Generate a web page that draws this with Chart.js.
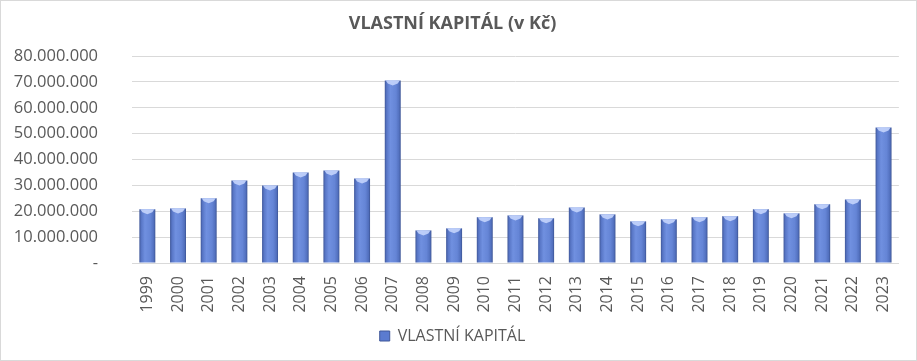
<!DOCTYPE html>
<html>
<head>
<meta charset="utf-8">
<script src="https://cdn.jsdelivr.net/npm/chart.js@4/dist/chart.umd.min.js"></script>
<style>
  html, body { margin: 0; padding: 0; background: #fff; }
  #wrap { width: 917px; height: 361px; box-sizing: border-box; border: 1px solid #d9d9d9; }
</style>
</head>
<body>
<div id="wrap"><canvas id="chart"></canvas></div>
<script>
// Data
const years = ['1999', '2000', '2001', '2002', '2003', '2004', '2005', '2006', '2007', '2008',
  '2009', '2010', '2011', '2012', '2013', '2014', '2015', '2016', '2017', '2018',
  '2019', '2020', '2021', '2022', '2023'];
const equity = [20750000, 21100000, 25000000, 31900000, 30000000, 35000000, 35800000, 32700000, 70600000, 12600000,
  13400000, 17700000, 18400000, 17300000, 21500000, 18800000, 16100000, 16900000, 17700000, 18100000,
  20750000, 19200000, 22700000, 24600000, 52400000];
const yTicks = [0, 10000000, 20000000, 30000000, 40000000, 50000000, 60000000, 70000000, 80000000];

const seriesName = 'VLASTNÍ KAPITÁL';
const grey = '#595959';
const BAR_PCT = 0.52;

// tisíce oddělené tečkou, nula jako pomlčka
function fmt(v) {
  if (v === 0) return '-';
  return String(v).replace(/\B(?=(\d{3})+(?!\d))/g, '.');
}

// horizontální gradient pro každý sloupec
function barFill(ctx) {
  const chart = ctx.chart;
  const xs = chart.scales.x;
  if (ctx.dataIndex === undefined || !xs || !chart.chartArea) return '#5b7bd0';
  const cx = xs.getPixelForValue(ctx.dataIndex);
  const half = (xs.width / years.length) * BAR_PCT / 2;
  const g = chart.ctx.createLinearGradient(cx - half, 0, cx + half, 0);
  g.addColorStop(0, '#3f5799');
  g.addColorStop(0.12, '#5876c6');
  g.addColorStop(0.35, '#7090e0');
  g.addColorStop(0.7, '#6585d6');
  g.addColorStop(0.9, '#5270be');
  g.addColorStop(1, '#3c5494');
  return g;
}

// světlejší zkosení nahoře na sloupcích
const bevel = {
  id: 'bevel',
  afterDatasetsDraw(chart) {
    const c = chart.ctx;
    chart.getDatasetMeta(0).data.forEach(bar => {
      const l = bar.x - bar.width / 2, r = bar.x + bar.width / 2, t = bar.y;
      c.save();
      c.fillStyle = 'rgba(196,212,252,0.9)';
      c.beginPath();
      c.moveTo(l + 1, t);
      c.lineTo(r - 1, t);
      c.lineTo(r - 3, t + 3);
      c.lineTo(bar.x, t + 5);
      c.lineTo(l + 3, t + 3);
      c.closePath();
      c.fill();
      c.restore();
    });
  }
};

function draw() {
  new Chart(document.getElementById('chart'), {
    type: 'bar',
    data: {
      labels: years,
      datasets: [{
        label: seriesName,
        data: equity,
        backgroundColor: barFill,
        borderWidth: 0,
        barPercentage: BAR_PCT,
        categoryPercentage: 1
      }]
    },
    options: {
      responsive: true,
      maintainAspectRatio: false,
      animation: false,
      layout: { padding: { left: 0, right: 12, top: 4, bottom: 6 } },
      plugins: {
        title: {
          display: true,
          text: 'VLASTNÍ KAPITÁL (v Kč)',
          color: grey,
          font: { family: 'Open Sans', size: 18, weight: 'bold' },
          padding: { top: 8, bottom: 21.5 }
        },
        legend: {
          position: 'bottom',
          labels: {
            color: grey,
            font: { family: 'Open Sans', size: 16 },
            boxWidth: 10,
            boxHeight: 10,
            padding: 6,
            generateLabels: () => [{
              text: seriesName, fillStyle: '#5b7bd0', strokeStyle: '#3f5799', lineWidth: 1,
              fontColor: grey, hidden: false, datasetIndex: 0
            }]
          }
        },
        tooltip: { enabled: false }
      },
      scales: {
        x: {
          afterFit: axis => { axis.height = 59; },
          grid: { display: false, drawTicks: false },
          border: { color: '#d9d9d9' },
          ticks: {
            color: grey,
            font: { family: 'Open Sans', size: 16 },
            minRotation: 90,
            maxRotation: 90,
            padding: 13,
            autoSkip: false
          }
        },
        y: {
          min: 0,
          max: 80000000,
          afterBuildTicks: axis => { axis.ticks = yTicks.map(v => ({ value: v })); },
          afterFit: axis => { axis.width = 131; },
          grid: { color: '#d9d9d9', drawTicks: false },
          border: { display: false },
          ticks: {
            color: grey,
            font: { family: 'Open Sans', size: 16.5 },
            padding: 34,
            callback: v => fmt(v)
          }
        }
      }
    },
    plugins: [bevel]
  });
}

// počkat na fonty, aby se popisky změřily správně
Promise.all([
  document.fonts.load('16px "Open Sans"'),
  document.fonts.load('bold 18px "Open Sans"')
]).then(draw, draw);
</script>
</body>
</html>
